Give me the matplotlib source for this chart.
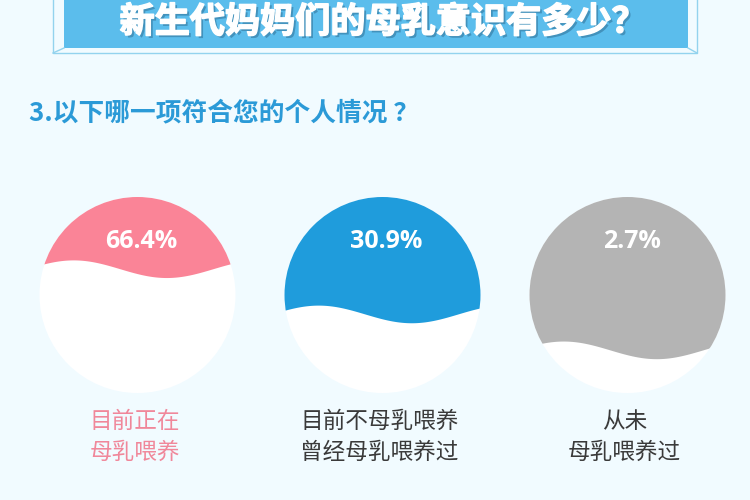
import numpy as np
import matplotlib
matplotlib.use("Agg")
import matplotlib.pyplot as plt
from matplotlib.patches import Circle, Rectangle
from matplotlib import patheffects as pe

plt.rcParams['font.family'] = ['Noto Sans CJK SC', 'DejaVu Sans']

# ---- content ----
title = "新生代妈妈们的母乳意识有多少？"
question = "3.以下哪一项符合您的个人情况 ？"
categories = [["目前正在", "母乳喂养"],
              ["目前不母乳喂养", "曾经母乳喂养过"],
              ["从未", "母乳喂养过"]]
shares = [66.4, 30.9, 2.7]          # percent
fill_colors = ["#fa8497", "#1f9cdc", "#b4b4b4"]
label_colors = ["#f0879a", "#3a3a3a", "#3a3a3a"]

BG = "#f1fbff"
W, H = 750, 500

fig = plt.figure(figsize=(7.5, 5), dpi=100, facecolor=BG)
ax = fig.add_axes([0, 0, 1, 1])
ax.set_xlim(0, W)
ax.set_ylim(H, 0)
ax.set_facecolor(BG)
ax.axis('off')

# ---- title banner ----
frame_col = "#93d3ee"
ax.plot([53, 53, 697, 697], [0, 53, 53, 0], color=frame_col, lw=1.0)
ax.plot([53, 64], [53, 48], color=frame_col, lw=1.0)
ax.plot([697, 688], [53, 48], color=frame_col, lw=1.0)
ax.add_patch(Rectangle((64, -2), 624, 50, facecolor="#5bbdec",
                       edgecolor="none"))
ax.text(383, 22, title, color="white", fontsize=25.3, fontweight="heavy",
        ha="center", va="center",
        path_effects=[pe.withSimplePatchShadow(offset=(1.8, -1.8),
                                               shadow_rgbFace="#2f6f96",
                                               alpha=0.55),
                      pe.Stroke(linewidth=1.1, foreground="white"),
                      pe.Normal()])

# ---- question ----
ax.text(29, 113, question, color="#2b9ad7", fontsize=18.5, fontweight="bold",
        ha="left", va="center")

# ---- wave-filled circles ----
r = 98
cy = 295
x_first, step = 137.5, 245
amp = 0.09 * r


def fill_height(pct):
    # liquid height as a fraction of the diameter
    return 0.2 + 0.65 * pct / 100.0


for i, (pct, col, lab, lcol) in enumerate(zip(shares, fill_colors,
                                              categories, label_colors)):
    cx = x_first + step * i
    circ = Circle((cx, cy), r, facecolor="white", edgecolor="none", zorder=2)
    ax.add_patch(circ)

    level = cy + r - 2 * r * fill_height(pct)
    xs = np.linspace(cx - r - 2, cx + r + 2, 400)
    u = (xs - (cx - r)) / r
    wave = level - amp * np.cos(2 * np.pi * (u - 0.35) / 1.9)
    top = np.full_like(xs, cy - r - 5)
    poly = ax.fill_between(xs, top, wave, facecolor=col, edgecolor="none",
                           zorder=3)
    poly.set_clip_path(circ)

    ax.text(cx + 4, 248, f"{pct}%", color="white", fontsize=18,
            fontweight="bold", ha="center", va="baseline", zorder=4,
            family=["Open Sans", "DejaVu Sans"])

    for j, line in enumerate(lab):
        ax.text(cx - 3, 421 + 31 * j, line, color=lcol, fontsize=16.3,
                ha="center", va="center")

fig.savefig("out.png", dpi=100, facecolor=BG)
